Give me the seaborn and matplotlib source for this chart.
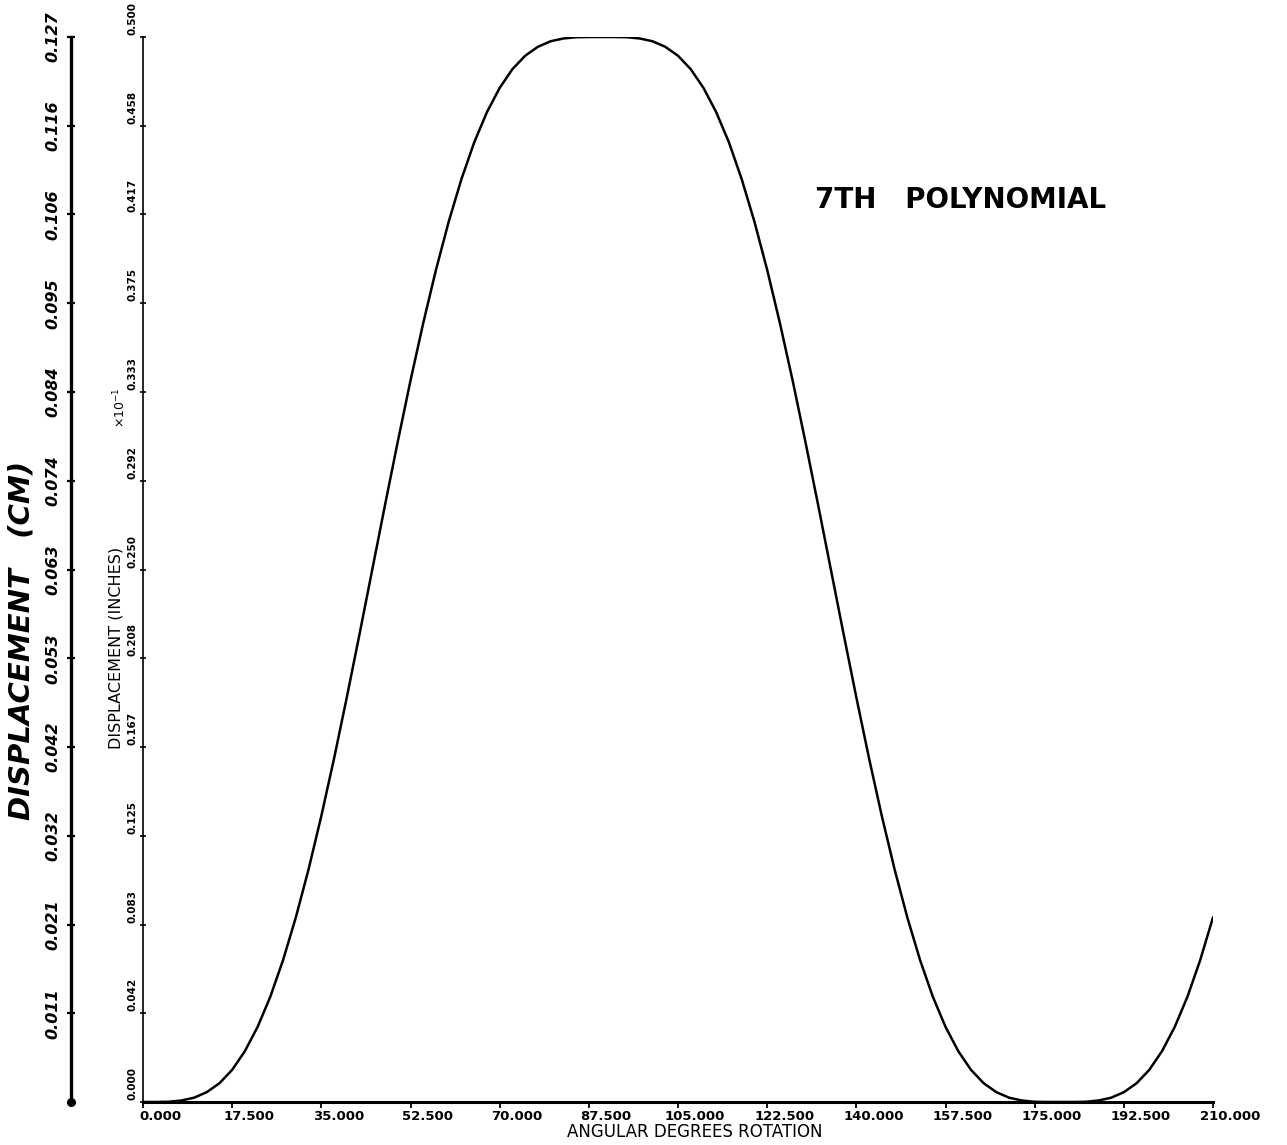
import matplotlib
matplotlib.use("Agg")
import matplotlib.pyplot as plt
from matplotlib.transforms import ScaledTranslation
import pandas as pd
import seaborn as sns

# ---- data ----
degrees = [0, 2.5, 5, 7.5, 10, 12.5, 15, 17.5, 20, 22.5, 25, 27.5, 30, 32.5, 35, 37.5,
           40, 42.5, 45, 47.5, 50, 52.5, 55, 57.5, 60, 62.5, 65, 67.5, 70, 72.5, 75, 77.5,
           80, 82.5, 85, 87.5, 90, 92.5, 95, 97.5, 100, 102.5, 105, 107.5, 110, 112.5,
           115, 117.5, 120, 122.5, 125, 127.5, 130, 132.5, 135, 137.5, 140, 142.5, 145,
           147.5, 150, 152.5, 155, 157.5, 160, 162.5, 165, 167.5, 170, 172.5, 175, 177.5,
           180, 182.5, 185, 187.5, 190, 192.5, 195, 197.5, 200, 202.5, 205, 207.5, 210]
displacement_in = [0.0000, 0.0000, 0.0001, 0.0007, 0.0020, 0.0046, 0.0088, 0.0151,
                   0.0239, 0.0353, 0.0495, 0.0667, 0.0867, 0.1093, 0.1343, 0.1613,
                   0.1900, 0.2197, 0.2500, 0.2803, 0.3100, 0.3387, 0.3657, 0.3907,
                   0.4133, 0.4333, 0.4505, 0.4647, 0.4761, 0.4849, 0.4912, 0.4954,
                   0.4980, 0.4993, 0.4999, 0.5000, 0.5000, 0.5000, 0.4999, 0.4993,
                   0.4980, 0.4954, 0.4912, 0.4849, 0.4761, 0.4647, 0.4505, 0.4333,
                   0.4133, 0.3907, 0.3657, 0.3387, 0.3100, 0.2803, 0.2500, 0.2197,
                   0.1900, 0.1613, 0.1343, 0.1093, 0.0867, 0.0667, 0.0495, 0.0353,
                   0.0239, 0.0151, 0.0088, 0.0046, 0.0020, 0.0007, 0.0001, 0.0000,
                   0.0000, 0.0000, 0.0001, 0.0007, 0.0020, 0.0046, 0.0088, 0.0151,
                   0.0239, 0.0353, 0.0495, 0.0667, 0.0867]

x_ticks = [0, 17.5, 35, 52.5, 70, 87.5, 105, 122.5, 140, 157.5, 175, 192.5, 210]
x_tick_labels = ["0.000", "17.500", "35.000", "52.500", "70.000", "87.500", "105.000",
                 "122.500", "140.000", "157.500", "175.000", "192.500", "210.000"]
inch_ticks = [0.0, 0.041667, 0.083333, 0.125, 0.166667, 0.208333, 0.25, 0.291667,
              0.333333, 0.375, 0.416667, 0.458333, 0.5]
inch_labels = ["0.000", "0.042", "0.083", "0.125", "0.167", "0.208", "0.250", "0.292",
               "0.333", "0.375", "0.417", "0.458", "0.500"]
cm_labels = ["0.011", "0.021", "0.032", "0.042", "0.053", "0.063", "0.074", "0.084",
             "0.095", "0.106", "0.116", "0.127"]

title_text = "7TH   POLYNOMIAL"

df = pd.DataFrame({"deg": degrees, "disp": displacement_in})

sns.set_theme(style="white")
plt.rcParams["font.family"] = ["DejaVu Sans"]

W, H = 1287, 1145
fig = plt.figure(figsize=(W / 100, H / 100), dpi=100)
fig.patch.set_facecolor("white")

x0, x1 = 143, 1213
y_top, y_bot = 37, 1102
ax = fig.add_axes([x0 / W, 1 - y_bot / H, (x1 - x0) / W, (y_bot - y_top) / H])
ax.set_facecolor("white")

sns.lineplot(data=df, x="deg", y="disp", ax=ax, color="black", linewidth=1.8,
             estimator=None, sort=False)

ax.set_xlim(0, 210)
ax.set_ylim(0, 0.5)
ax.set_xlabel("")
ax.set_ylabel("")
for s in ["top", "right"]:
    ax.spines[s].set_visible(False)
ax.spines["left"].set_color("black")
ax.spines["left"].set_linewidth(1.2)
ax.spines["bottom"].set_color("black")
ax.spines["bottom"].set_linewidth(2.2)

# x axis ticks
ax.set_xticks(x_ticks)
ax.set_xticklabels(x_tick_labels)
ax.tick_params(axis="x", direction="out", length=4, width=1.3, color="black",
               pad=2, labelsize=9.5, labelcolor="black", bottom=True)
xoff = ScaledTranslation(17 / 100, 0, fig.dpi_scale_trans)
for t in ax.xaxis.get_major_ticks():
    t.label1.set_transform(t.label1.get_transform() + xoff)
    t.label1.set_fontweight("bold")

# inner (inches) y axis
ax.set_yticks(inch_ticks)
ax.set_yticklabels(inch_labels)
ax.tick_params(axis="y", direction="inout", length=5, width=1.2, color="black",
               pad=5, labelsize=7.5, labelcolor="black", left=True)
yoff = ScaledTranslation(0, 2 / 100, fig.dpi_scale_trans)
for t in ax.yaxis.get_major_ticks():
    t.label1.set_rotation(90)
    t.label1.set_ha("center")
    t.label1.set_va("bottom")
    t.label1.set_fontweight("bold")
    t.label1.set_transform(t.label1.get_transform() + yoff)

# outer (cm) axis
sec = ax.secondary_yaxis((71 - x0) / (x1 - x0))
sec.spines["left"].set_linewidth(2.4)
sec.spines["left"].set_color("black")
sec.set_yticks(inch_ticks[1:])
sec.set_yticklabels(cm_labels)
sec.tick_params(axis="y", direction="inout", length=6, width=1.6, color="black",
                pad=10, labelsize=11.5, labelcolor="black")
for lbl in sec.get_yticklabels():
    lbl.set_rotation(90)
    lbl.set_ha("center")
    lbl.set_va("center")
    lbl.set_fontstyle("italic")
    lbl.set_fontweight("bold")
ax.plot([(71 - x0) / (x1 - x0)], [0], marker="o", ms=5.5, color="black",
        transform=ax.transAxes, clip_on=False)

# texts
fig.text(815 / W, 1 - 200 / H, title_text, ha="left", va="center", fontsize=20,
         fontweight="bold", color="black")
fig.text(695 / W, 1 - 1132 / H, "ANGULAR DEGREES ROTATION", ha="center", va="center",
         fontsize=12, color="black")
fig.text(116 / W, 1 - 648 / H, "DISPLACEMENT (INCHES)", rotation=90, ha="center",
         va="center", fontsize=11.5, color="black")
fig.text(120 / W, 1 - 408 / H, r"$\times10^{-1}$", rotation=90, ha="center",
         va="center", fontsize=9, color="black")
fig.text(22 / W, 1 - 640 / H, "DISPLACEMENT   (CM)", rotation=90, ha="center",
         va="center", fontsize=21, fontstyle="italic", fontweight="bold", color="black")

fig.savefig("out.png", dpi=100, facecolor="white")
